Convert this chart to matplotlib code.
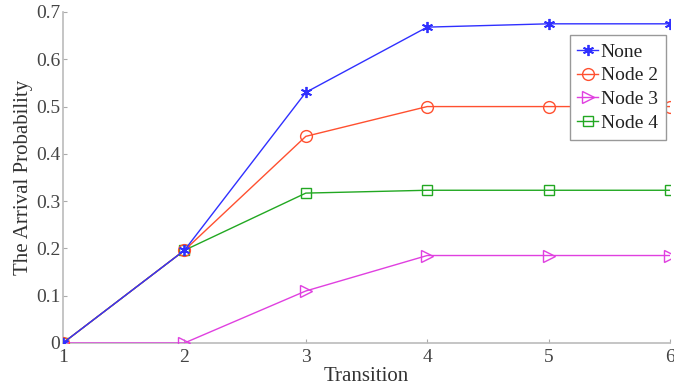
import matplotlib
matplotlib.use("Agg")
import matplotlib.pyplot as plt

x = [1, 2, 3, 4, 5, 6]
none_vals = [0, 0.196, 0.530, 0.668, 0.675, 0.675]
node2_vals = [0, 0.196, 0.437, 0.500, 0.500, 0.500]
node3_vals = [0, 0.0, 0.110, 0.185, 0.185, 0.185]
node4_vals = [0, 0.196, 0.317, 0.323, 0.323, 0.323]
yticks = [0, 0.1, 0.2, 0.3, 0.4, 0.5, 0.6, 0.7]
ytick_labels = ["0", "0.1", "0.2", "0.3", "0.4", "0.5", "0.6", "0.7"]

plt.rcParams['font.family'] = ['Liberation Serif', 'DejaVu Serif']

fig = plt.figure(figsize=(6.74, 3.87), dpi=100)
ax = fig.add_axes([0.0935, 0.1137, 0.9005, 0.8553])

ax.plot(x, node4_vals, color='#22a822', marker='s', ms=6.5, mfc='none', lw=1.0, label='Node 4', zorder=2)
ax.plot(x, node3_vals, color='#e040e0', marker='>', ms=8, mfc='none', lw=1.0, label='Node 3', zorder=3)
ax.plot(x, node2_vals, color='#ff5030', marker='o', ms=8.5, mfc='none', lw=1.0, label='Node 2', zorder=4)
ax.plot(x, none_vals, color='#3030ff', marker=(6, 2, 0), ms=8, mew=1.3, lw=1.0, label='None', zorder=5)

ax.set_xlim(1, 6)
ax.set_ylim(0, 0.7)
ax.set_xticks(x)
ax.set_yticks(yticks)
ax.set_yticklabels(ytick_labels)
ax.tick_params(direction='in', length=3, labelsize=14, colors='#aaaaaa', labelcolor='#444444', pad=2)
ax.tick_params(axis='x', pad=4)

for s in ['top', 'right']:
    ax.spines[s].set_visible(False)
for s in ['left', 'bottom']:
    ax.spines[s].set_color('#bbbbbb')
    ax.spines[s].set_linewidth(1.2)

ax.set_xlabel('Transition', fontsize=15, color='#333333', labelpad=1)
ax.set_ylabel('The Arrival Probability', fontsize=15, color='#333333', labelpad=2)

handles, labels = ax.get_legend_handles_labels()
order = [3, 2, 1, 0]
leg = ax.legend([handles[i] for i in order], [labels[i] for i in order],
                loc='upper right', bbox_to_anchor=(0.993, 0.93), fontsize=14,
                frameon=True, fancybox=False, framealpha=1, edgecolor='#999999',
                handlelength=1.05, handletextpad=0.15, borderpad=0.4, labelspacing=0.32,
                borderaxespad=0)
leg.get_frame().set_linewidth(1.0)
for t in leg.get_texts():
    t.set_color('#222222')

fig.savefig('out.png', dpi=100)
